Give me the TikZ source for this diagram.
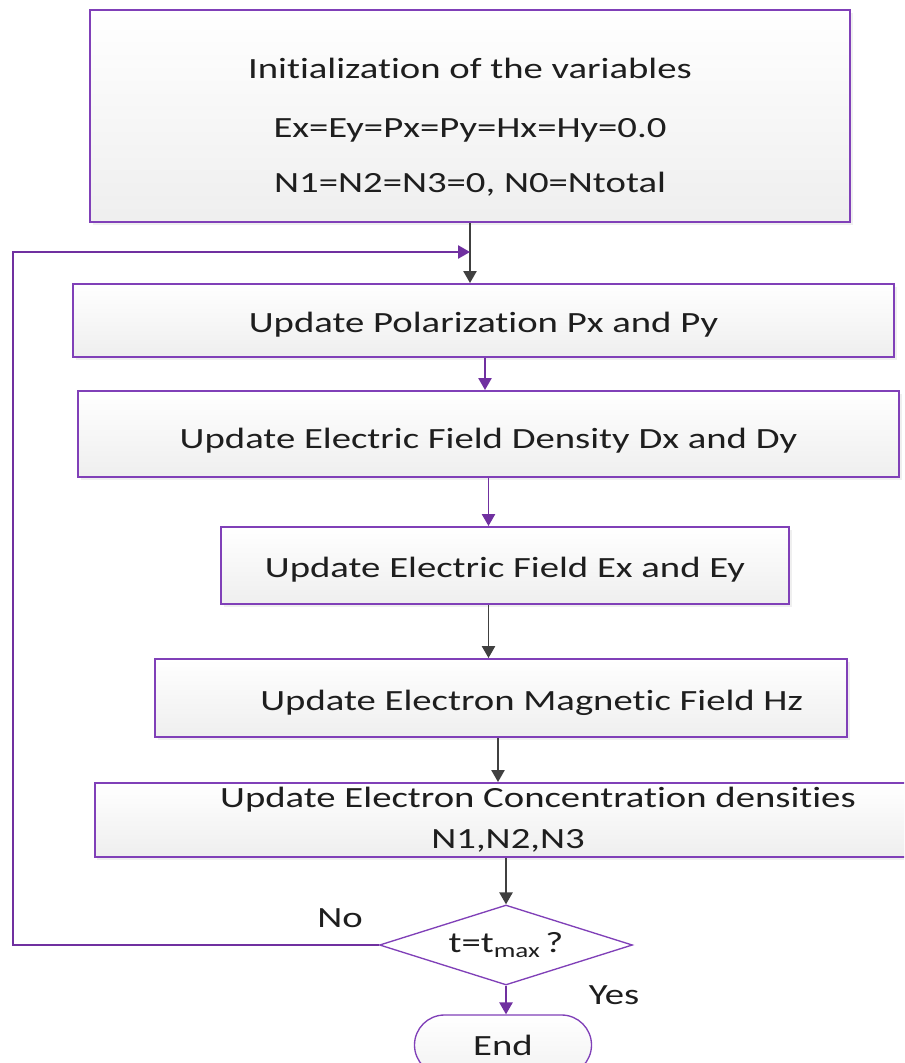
\documentclass[tikz,border=0pt]{standalone}
\usepackage{fontspec}
\setmainfont{Carlito}[FakeStretch=1.32, Ligatures=NoCommon]
\usetikzlibrary{shapes.geometric,shapes.misc,arrows.meta,shadows}

\definecolor{boxline}{RGB}{128,64,184}
\definecolor{flowline}{RGB}{112,48,160}
\definecolor{darkline}{RGB}{64,64,64}
\definecolor{inktext}{RGB}{30,30,30}

\tikzset{
  stepbox/.style={draw=boxline, line width=1.5pt, top color=white, bottom color=gray!13,
    drop shadow={shadow xshift=2pt, shadow yshift=-2pt, fill=gray!25},
    inner sep=0pt, align=center, text=inktext, font=\fontsize{22}{26}\selectfont},
  oneline/.style={text height=22pt, text depth=4pt},
  testbox/.style={draw=boxline, line width=1pt, fill=white, shape=diamond, aspect=3.16,
    inner sep=0pt, minimum width=189.75pt, minimum height=60pt, text=inktext, font=\fontsize{22}{26}\selectfont},
  endbox/.style={draw=boxline, line width=1pt, rounded rectangle, top color=white, bottom color=gray!10,
    minimum width=132.75pt, minimum height=45pt, inner sep=0pt, text=inktext, font=\fontsize{22}{26}\selectfont},
  darkarrow/.style={draw=darkline, line width=1.2pt, -{Triangle[length=9pt,width=10pt]}},
  purplearrow/.style={draw=flowline, line width=1.2pt, -{Triangle[length=9pt,width=10pt]}},
  answer/.style={text=inktext, font=\fontsize{22}{26}\selectfont}
}

\begin{document}
\begin{tikzpicture}[x=0.75pt,y=-0.75pt]
\useasboundingbox (0,0) rectangle (904,1063);
\clip (0,0) rectangle (904,1063);

% boxes
\node[stepbox, minimum width=570pt, minimum height=159pt] (init) at (470,116)
  {\begin{tabular}{@{}c@{}}\rule{0pt}{37pt}Initialization of the variables\\[18pt] Ex=Ey=Px=Py=Hx=Hy=0.0\\[15pt] N1=N2=N3=0, N0=Ntotal\end{tabular}};
\node[stepbox, oneline, minimum width=615.75pt, minimum height=54.75pt] (pol) at (483.5,320.5) {Update Polarization Px and Py};
\node[stepbox, oneline, text height=25pt, minimum width=615.75pt, minimum height=64.5pt] (dens) at (488.5,434) {Update Electric Field Density Dx and Dy};
\node[stepbox, oneline, minimum width=426pt, minimum height=57.75pt] (efield) at (505,565.5) {Update Electric Field Ex and Ey};
\node[stepbox, oneline, minimum width=519pt, minimum height=58.5pt] (mag) at (501,698) {\hspace*{46pt}Update Electron Magnetic Field Hz};
\node[stepbox, minimum width=620pt, minimum height=55.5pt] (conc) at (508,820)
  {\hspace*{45pt}Update Electron Concentration densities\\[5pt] N1,N2,N3};
\node[testbox] (test) at (506,945) {t=t\textsubscript{max}\,?};
\node[endbox] (stop) at (503,1045) {End};

% labels
\node[answer] (no) at (340,918) {No};
\node[answer] (yes) at (614,995) {Yes};

% connectors
\coordinate (merge) at (init.south |- 0,252);
\draw[darkarrow] (init.south) -- (pol.north -| init.south);
\draw[purplearrow] (pol.south -| 485,0) -- (dens.north -| 485,0);
\draw[purplearrow] (dens.south) -- (efield.north -| dens.south);
\draw[darkarrow] (efield.south -| dens.south) -- (mag.north -| dens.south);
\draw[darkarrow] (mag.south -| 498,0) -- (conc.north -| 498,0);
\draw[darkarrow] (conc.south -| test.north) -- (test.north);
\draw[purplearrow] (test.south) -- (stop.north -| test.south);
\draw[purplearrow] (test.west) -- (13,945) -- (13,252) -- (merge);
\end{tikzpicture}
\end{document}
